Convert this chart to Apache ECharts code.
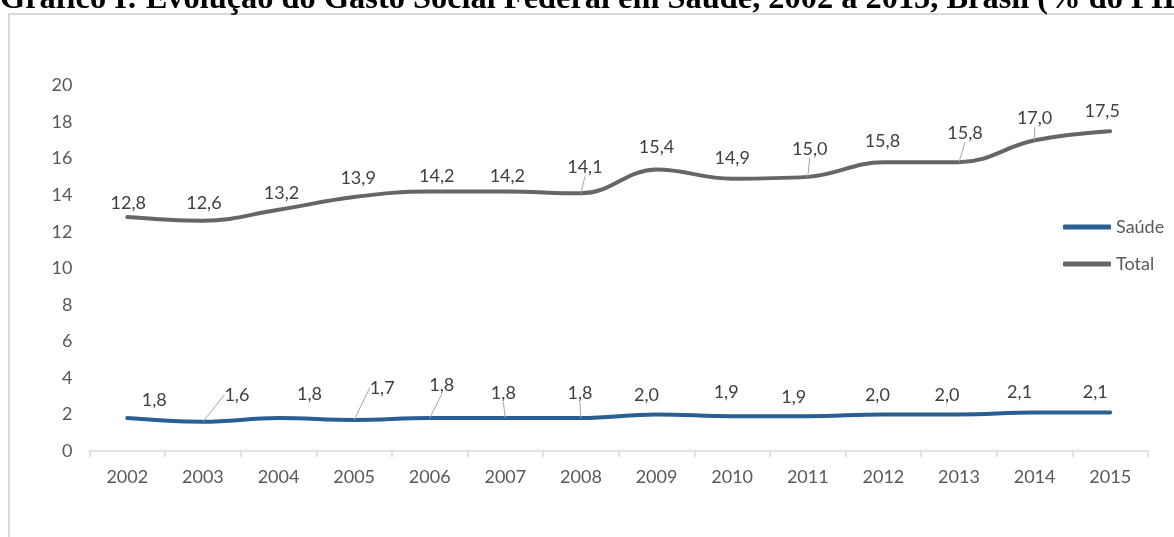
<!DOCTYPE html>
<html><head><meta charset="utf-8">
<script src="https://cdn.jsdelivr.net/npm/echarts@6/dist/echarts.min.js"></script>
<style>html,body{margin:0;padding:0;background:#fff}#c{width:1174px;height:537px}</style>
</head><body><div id="c"></div>
<script>
// ---- data ----
const titleText = 'Gráfico I: Evolução do Gasto Social Federal em Saúde, 2002 a 2015, Brasil (% do PIB)';
const years = ['2002','2003','2004','2005','2006','2007','2008','2009','2010','2011','2012','2013','2014','2015'];
const seriesNames = ['Saúde', 'Total'];
const saude = [1.8, 1.6, 1.8, 1.7, 1.8, 1.8, 1.8, 2.0, 1.9, 1.9, 2.0, 2.0, 2.1, 2.1];
const total = [12.8, 12.6, 13.2, 13.9, 14.2, 14.2, 14.1, 15.4, 14.9, 15.0, 15.8, 15.8, 17.0, 17.5];
const yMin = 0, yMax = 20, yStep = 2;

// ---- layout / style ----
const FONT = 'Lato';
const fmt = v => Number(v).toFixed(1).replace('.', ',');
const saudeShift = [[27,-4],[34,-13],[31,-10],[28,-18],[12,-19],[-2,-11],[-1,-11],[-10,-5],[-6,-10],[-14,-5],[-6,-5],[-12,-5],[-15,-6],[-15,-6]];
const totalShift = [[1,0],[1,-4],[3,-3],[4,-5],[7,-1],[2,-1],[4,-12],[0,-8],[0,-7],[2,-14],[-1,-7],[6,-15],[0,-8],[-8,-6]];
const saudeLeader = [1,3,4,5,6];
const totalLeader = [6,9,11,12];
const mk = (vals, leader) => vals.map((v, i) => ({ value: v, labelLine: { show: leader.includes(i) } }));

function lineSeries(name, vals, color, shift, leader) {
  return {
    name, type: 'line', data: mk(vals, leader), smooth: 0.4,
    symbol: 'circle', symbolSize: 0.01, showSymbol: true,
    itemStyle: { color },
    lineStyle: { color, width: 4, cap: 'round' },
    label: { show: true, position: 'top', distance: 5, formatter: p => fmt(p.value),
             color: '#404040', fontSize: 18, fontFamily: FONT },
    labelLine: { show: false, lineStyle: { color: '#a6a6a6', width: 1 } },
    labelLayout: p => ({ dx: shift[p.dataIndex][0], dy: shift[p.dataIndex][1] }),
    emphasis: { disabled: true }
  };
}

const chart = echarts.init(document.getElementById('c'), null, { renderer: 'canvas' });
chart.setOption({
  animation: false,
  backgroundColor: '#ffffff',
  graphic: [
    { type: 'rect', silent: true, z: -1,
      shape: { x: 9, y: 14, width: 1400, height: 800 },
      style: { fill: 'none', stroke: '#d9d9d9', lineWidth: 2 } },
    { type: 'text', silent: true, x: 0, y: 0, z: 10,
      style: { text: titleText, font: 'bold 32.4px "Liberation Serif"', fill: '#000000',
               align: 'left', verticalAlign: 'middle' } }
  ],
  grid: { left: 89.5, right: 26, top: 85.5, bottom: 86, containLabel: false, outerBoundsMode: 'none' },
  legend: {
    orient: 'vertical', left: 1058, top: 213, itemWidth: 48, itemHeight: 5, itemGap: 19,
    icon: 'roundRect',
    data: seriesNames,
    textStyle: { color: '#595959', fontSize: 18, fontFamily: FONT }
  },
  xAxis: {
    type: 'category', data: years, boundaryGap: true,
    axisLine: { lineStyle: { color: '#d9d9d9', width: 1.5 } },
    axisTick: { show: true, length: 6, lineStyle: { color: '#d9d9d9', width: 1.5 } },
    axisLabel: { color: '#595959', fontSize: 18, fontFamily: FONT, margin: 17 },
    splitLine: { show: false }
  },
  yAxis: {
    type: 'value', min: yMin, max: yMax, interval: yStep,
    axisLine: { show: false }, axisTick: { show: false }, splitLine: { show: false },
    axisLabel: { color: '#595959', fontSize: 18, fontFamily: FONT, margin: 17 }
  },
  series: [
    lineSeries(seriesNames[0], saude, '#2a5f93', saudeShift, saudeLeader),
    lineSeries(seriesNames[1], total, '#666666', totalShift, totalLeader)
  ]
});
</script></body></html>
